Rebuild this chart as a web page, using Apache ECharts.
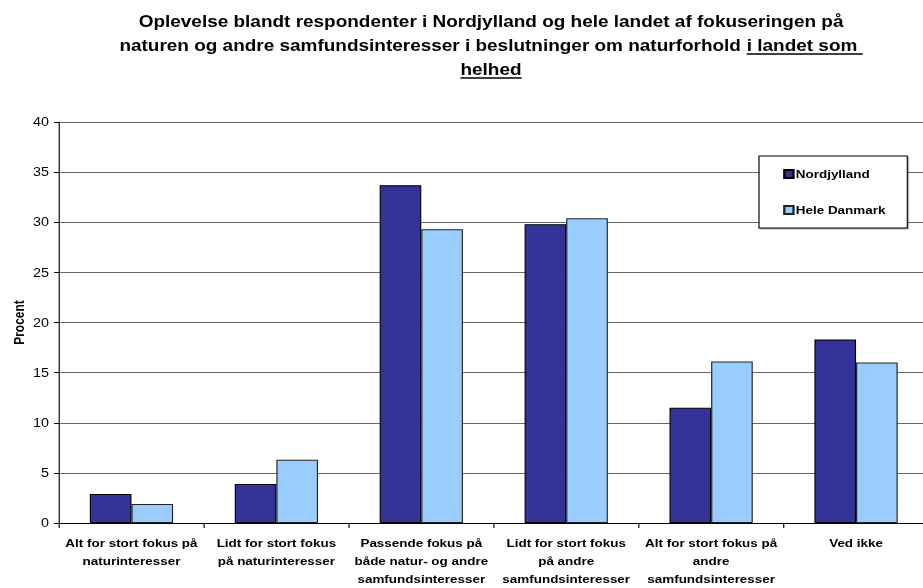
<!DOCTYPE html>
<html>
<head>
<meta charset="utf-8">
<script src="https://cdn.jsdelivr.net/npm/echarts@6/dist/echarts.min.js"></script>
<style>
  html, body { margin: 0; padding: 0; background: #fff; overflow: hidden; }
  #wrap { width: 923px; height: 588px; overflow: hidden; }
  /* the chart is laid out narrower and widened horizontally, like a stretched office chart */
  #chart { width: 802.6px; height: 588px; transform: scale(1.15, 1); transform-origin: 0 0; }
</style>
</head>
<body>
<div id="wrap"><div id="chart"></div></div>
<script>
// Categories (explicit line breaks as set in the chart)
const categories = [
  'Alt for stort fokus på\nnaturinteresser',
  'Lidt for stort fokus\npå naturinteresser',
  'Passende fokus på\nbåde natur- og andre\nsamfundsinteresser',
  'Lidt for stort fokus\npå andre\nsamfundsinteresser',
  'Alt for stort fokus på\nandre\nsamfundsinteresser',
  'Ved ikke'
];
const nordjylland = [2.9, 3.9, 33.7, 29.8, 11.5, 18.3];
const heleDanmark = [1.9, 6.3, 29.3, 30.4, 16.1, 16.0];
const seriesNames = ['Nordjylland', 'Hele Danmark'];
const yTicks = { min: 0, max: 40, interval: 5 };

const titleLine1 = 'Oplevelse blandt respondenter i Nordjylland og hele landet af fokuseringen på';
const titleLine2Plain = 'naturen og andre samfundsinteresser i beslutninger om naturforhold ';
const titleLine2Under = 'i landet som ';
const titleLine3Under = 'helhed';

const FONT = '"Liberation Sans", Arial, Helvetica, sans-serif';
const titleFont = 'bold 16.5px ' + FONT;
const titleCx = 427;

// text measuring for underline placement
const ctx = document.createElement('canvas').getContext('2d');
ctx.font = titleFont;
const tw = s => ctx.measureText(s).width;

const y1 = 21, y2 = 45, y3 = 69;
const w2 = tw(titleLine2Plain + titleLine2Under);
const l2 = titleCx - w2 / 2;
const u2x = l2 + tw(titleLine2Plain);
const w3 = tw(titleLine3Under);
const l3 = titleCx - w3 / 2;

const chart = echarts.init(document.getElementById('chart'), null, { renderer: 'svg' });

chart.setOption({
  backgroundColor: '#fff',
  animation: false,
  textStyle: { fontFamily: FONT },
  graphic: [
    { type: 'text', style: { text: titleLine1, x: titleCx, y: y1, font: titleFont, fill: '#000', textAlign: 'center', textVerticalAlign: 'middle' } },
    { type: 'text', style: { text: titleLine2Plain, x: l2, y: y2, font: titleFont, fill: '#000', textAlign: 'left', textVerticalAlign: 'middle' } },
    { type: 'text', style: { text: titleLine2Under, x: u2x, y: y2, font: titleFont, fill: '#000', textAlign: 'left', textVerticalAlign: 'middle' } },
    { type: 'text', style: { text: titleLine3Under, x: l3, y: y3, font: titleFont, fill: '#000', textAlign: 'left', textVerticalAlign: 'middle' } },
    { type: 'line', shape: { x1: u2x, y1: y2 + 9, x2: l2 + w2, y2: y2 + 9 }, style: { stroke: '#000', lineWidth: 1.5 } },
    { type: 'line', shape: { x1: l3, y1: y3 + 9, x2: l3 + w3, y2: y3 + 9 }, style: { stroke: '#000', lineWidth: 1.5 } }
  ],
  legend: {
    data: seriesNames,
    orient: 'vertical',
    left: 660,
    top: 156,
    padding: [11, 19, 11, 21],
    itemGap: 22,
    itemWidth: 8,
    itemHeight: 8,
    icon: 'rect',
    backgroundColor: '#fff',
    borderColor: '#000',
    borderWidth: 1,
    shadowColor: 'rgba(0,0,0,0.3)',
    shadowOffsetX: 1,
    shadowOffsetY: 1,
    textStyle: { fontFamily: FONT, fontWeight: 'bold', fontSize: 11.7, color: '#000', lineHeight: 14, padding: [0, 0, 0, -3] }
  },
  grid: { left: 51.3, right: -4.4, top: 122, bottom: 65, containLabel: false, outerBoundsMode: 'none' },
  xAxis: {
    type: 'category',
    data: categories,
    boundaryGap: true,
    axisLine: { lineStyle: { color: '#000', width: 1 } },
    axisTick: { show: true, length: 5, lineStyle: { color: '#000' } },
    axisLabel: {
      interval: 0, margin: 11, color: '#000', fontFamily: FONT, fontWeight: 'bold',
      fontSize: 11.7, lineHeight: 18, align: 'center'
    }
  },
  yAxis: {
    type: 'value',
    min: yTicks.min, max: yTicks.max, interval: yTicks.interval,
    name: 'Procent',
    nameLocation: 'middle',
    nameGap: 29,
    nameRotate: 90,
    nameMoveOverlap: false,
    nameTextStyle: { fontFamily: FONT, fontWeight: 'bold', fontSize: 12, color: '#000' },
    axisLine: { show: true, lineStyle: { color: '#000', width: 1 } },
    axisTick: { show: true, length: 4.3, inside: false, lineStyle: { color: '#000' } },
    axisLabel: { margin: 8.7, color: '#000', fontFamily: FONT, fontSize: 12.5 },
    splitLine: { show: true, lineStyle: { color: '#666', width: 1 } }
  },
  series: [
    {
      name: seriesNames[0], type: 'bar', data: nordjylland,
      barWidth: 36.2, barGap: '0%',
      itemStyle: { color: '#333399', borderColor: '#000', borderWidth: 1 }
    },
    {
      name: seriesNames[1], type: 'bar', data: heleDanmark,
      barWidth: 36.2, barGap: '0%',
      itemStyle: { color: '#99CCFF', borderColor: '#222', borderWidth: 1 }
    }
  ]
});
</script>
</body>
</html>
